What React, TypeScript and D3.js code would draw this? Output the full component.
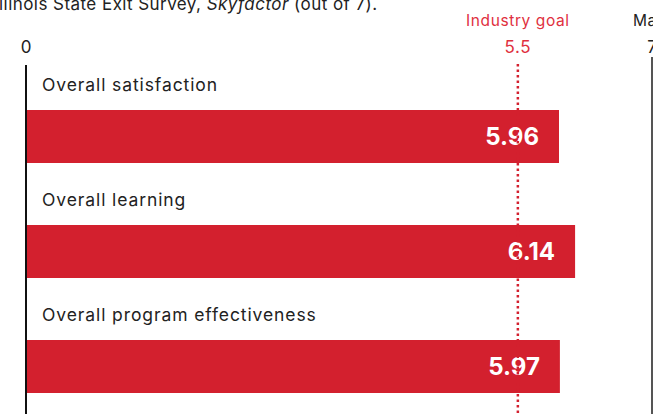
import React from "react";
import * as d3 from "d3";

const categories = ["Overall satisfaction", "Overall learning", "Overall program effectiveness"];
const values = [5.96, 6.14, 5.97];
const goalValue = 5.5;
const maxValue = 7;
const axisTicks = [0];

const W = 653;
const H = 414;
const RED = "#d3202e";
const FONT = "Inter, 'Noto Sans', sans-serif";

export default function App() {
  const x = d3.scaleLinear().domain([0, maxValue]).range([26, 652]);
  const y = d3.scaleBand<string>().domain(categories).range([48, 48 + 115 * 3]);
  const bandTop = (c: string) => y(c) as number;
  const barOffset = 62;
  const barH = 53;

  return (
    <svg width={W} height={H} style={{ position: "absolute", left: 0, top: 0, background: "#fff" }} fontFamily={FONT}>
      {/* title (cropped) */}
      <text x={-6} y={10} textAnchor="start" fontSize={17} letterSpacing={0.45} fill="#222">
        Illinois State Exit Survey, <tspan fontStyle="italic">Skyfactor</tspan> (out of 7).
      </text>

      {/* axis tick labels */}
      {axisTicks.map((t) => (
        <text key={t} x={x(t)} y={53} textAnchor="middle" fontSize={17} fill="#222">
          {t}
        </text>
      ))}
      <text x={x(goalValue)} y={26} textAnchor="middle" fontSize={15.5} letterSpacing={0.6} fill="#e0303e">
        Industry goal
      </text>
      <text x={x(goalValue)} y={53} textAnchor="middle" fontSize={17} letterSpacing={0.6} fill="#e0303e">
        {goalValue}
      </text>
      <text x={633} y={26} textAnchor="start" fontSize={15.5} letterSpacing={0.6} fill="#222">
        Maximum
      </text>
      <text x={x(maxValue)} y={53} textAnchor="middle" fontSize={17} fill="#222">
        {maxValue}
      </text>

      {/* bars */}
      {categories.map((c, i) => {
        const top = bandTop(c);
        return (
          <g key={c}>
            <text x={42} y={top + 43} fontSize={17.5} letterSpacing={0.9} fill="#222">
              {c}
            </text>
            <rect x={x(0) + 1} y={top + barOffset} width={x(values[i]) - x(0) - 1} height={barH} fill={RED} />
            <text
              x={x(values[i]) - 20}
              y={top + barOffset + 35}
              textAnchor="end"
              fontSize={24}
              fontWeight={700}
              fill="#fff"
            >
              {values[i].toFixed(2)}
            </text>
          </g>
        );
      })}

      {/* goal line */}
      <line x1={x(goalValue)} x2={x(goalValue)} y1={64} y2={H} stroke={RED} strokeWidth={2.5} strokeDasharray="2.5 3" />
      {/* zero axis */}
      <line x1={x(0)} x2={x(0)} y1={65} y2={H} stroke="#111" strokeWidth={2} />
      {/* max line */}
      <line x1={x(maxValue)} x2={x(maxValue)} y1={57} y2={H} stroke="#555" strokeWidth={2} />
    </svg>
  );
}
